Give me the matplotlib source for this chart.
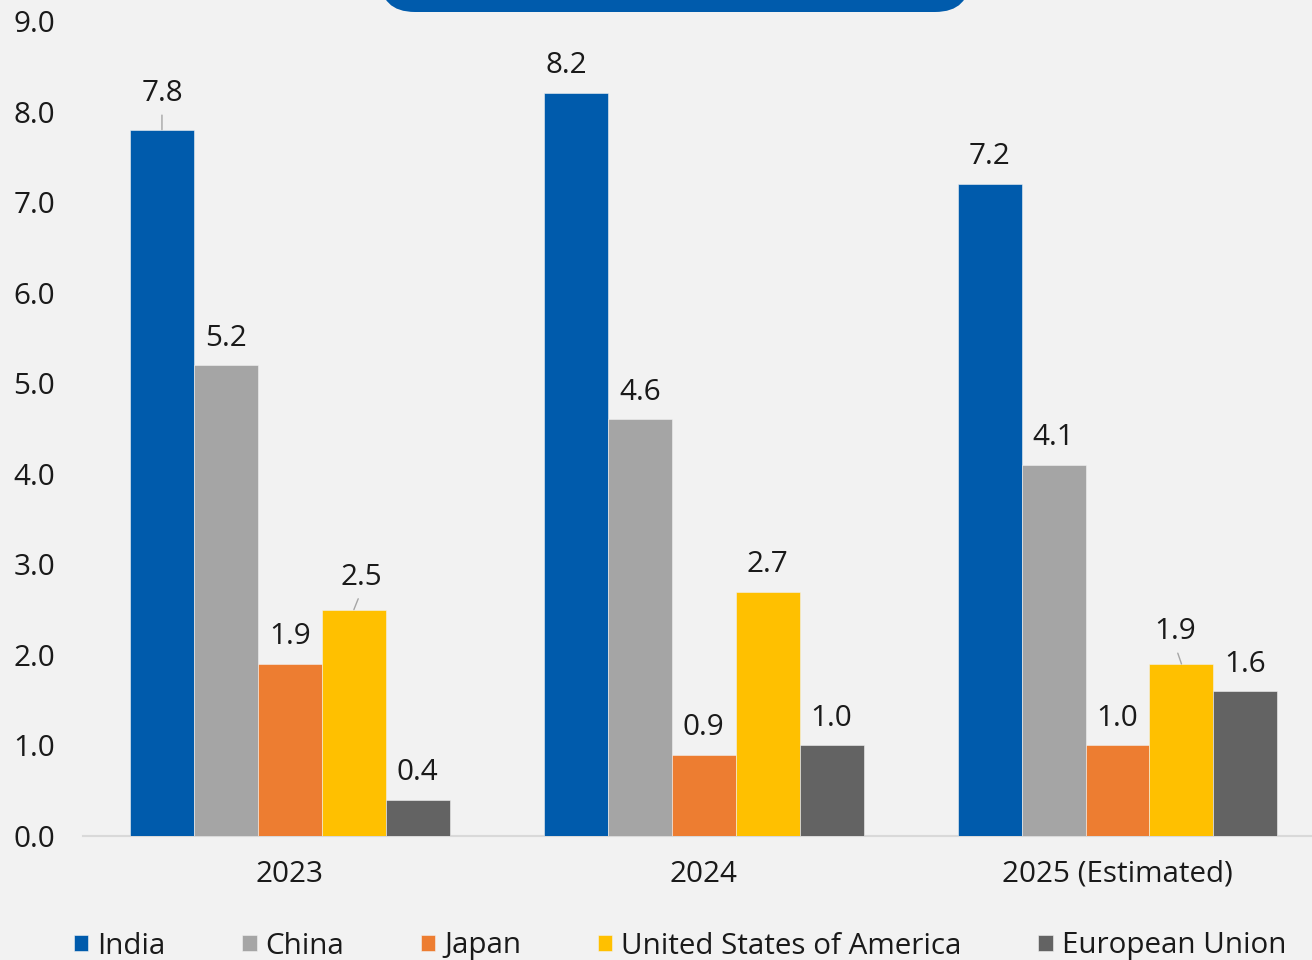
import matplotlib
matplotlib.use("Agg")
import matplotlib.pyplot as plt
import numpy as np
from matplotlib.patches import FancyBboxPatch

# data
years = ["2023", "2024", "2025 (Estimated)"]
countries = ["India", "China", "Japan", "United States of America", "European Union"]
india = [7.8, 8.2, 7.2]
china = [5.2, 4.6, 4.1]
japan = [1.9, 0.9, 1.0]
usa = [2.5, 2.7, 1.9]
eu = [0.4, 1.0, 1.6]

colors = ["#005BAC", "#A5A5A5", "#ED7D31", "#FFC000", "#636363"]
bg = "#F2F2F2"

# label offsets in pixels (dx, dy) where the default spot was moved
label_shift = {(0, 0): (0, 36), (3, 0): (7, 32), (0, 1): (-9, 28), (3, 2): (-6, 32)}
leader = {(0, 0), (3, 0), (3, 2)}

plt.rcParams["font.family"] = ["Open Sans", "DejaVu Sans"]
fs = 21.3

fig = plt.figure(figsize=(13.12, 9.6), dpi=100, facecolor=bg)
ax = fig.add_axes([83 / 1312, 1 - 836 / 960, 1 - 83 / 1312, (836 - 21) / 960])
ax.set_facecolor(bg)

series = [india, china, japan, usa, eu]
x = np.arange(len(years))
w = 0.1546
px2pt = 0.72

for i, vals in enumerate(series):
    pos = x + (i - 2) * w
    ax.bar(pos, vals, w, color=colors[i], label=countries[i],
           edgecolor=bg, linewidth=0.4, zorder=3)
    for j, v in enumerate(vals):
        dx, dy = label_shift.get((i, j), (0, 27))
        arrow = None
        if (i, j) in leader:
            arrow = dict(arrowstyle="-", color="#A6A6A6", lw=1,
                         shrinkA=3, shrinkB=0, relpos=(0.5, 0.0))
        ax.annotate(f"{v:.1f}", xy=(pos[j], v), xytext=(dx * px2pt, dy * px2pt),
                    textcoords="offset points", ha="center", va="center",
                    fontsize=fs, color="#1a1a1a", arrowprops=arrow, zorder=4)

ax.set_xlim(-0.5, 2.47)
ax.set_ylim(0, 9.0)
ax.set_yticks(np.arange(0, 9.5, 1.0))
ax.set_yticklabels([f"{t:.1f}" for t in np.arange(0, 9.5, 1.0)])
ax.set_xticks(x)
ax.set_xticklabels(years)
ax.tick_params(axis="both", length=0, labelsize=fs, colors="#1a1a1a")
ax.tick_params(axis="y", pad=20)
ax.tick_params(axis="x", pad=17)
for s in ["top", "right", "left"]:
    ax.spines[s].set_visible(False)
ax.spines["bottom"].set_color("#D9D9D9")
ax.spines["bottom"].set_linewidth(1.5)

fig.legend(loc="center", bbox_to_anchor=(680 / 1312, 1 - 946 / 960), ncol=5,
           frameon=False, fontsize=fs, handlelength=0.48, handleheight=0.48,
           handletextpad=0.3, columnspacing=2.6, labelcolor="#1a1a1a")

# title box cut off at the top
box = FancyBboxPatch((3.80, 9.48), 5.90, 0.8,
                     boxstyle="round,pad=0,rounding_size=0.35",
                     transform=fig.dpi_scale_trans, facecolor="#005BAC",
                     edgecolor="none", clip_on=False)
fig.patches.append(box)

fig.savefig("out.png", dpi=100, facecolor=bg)
